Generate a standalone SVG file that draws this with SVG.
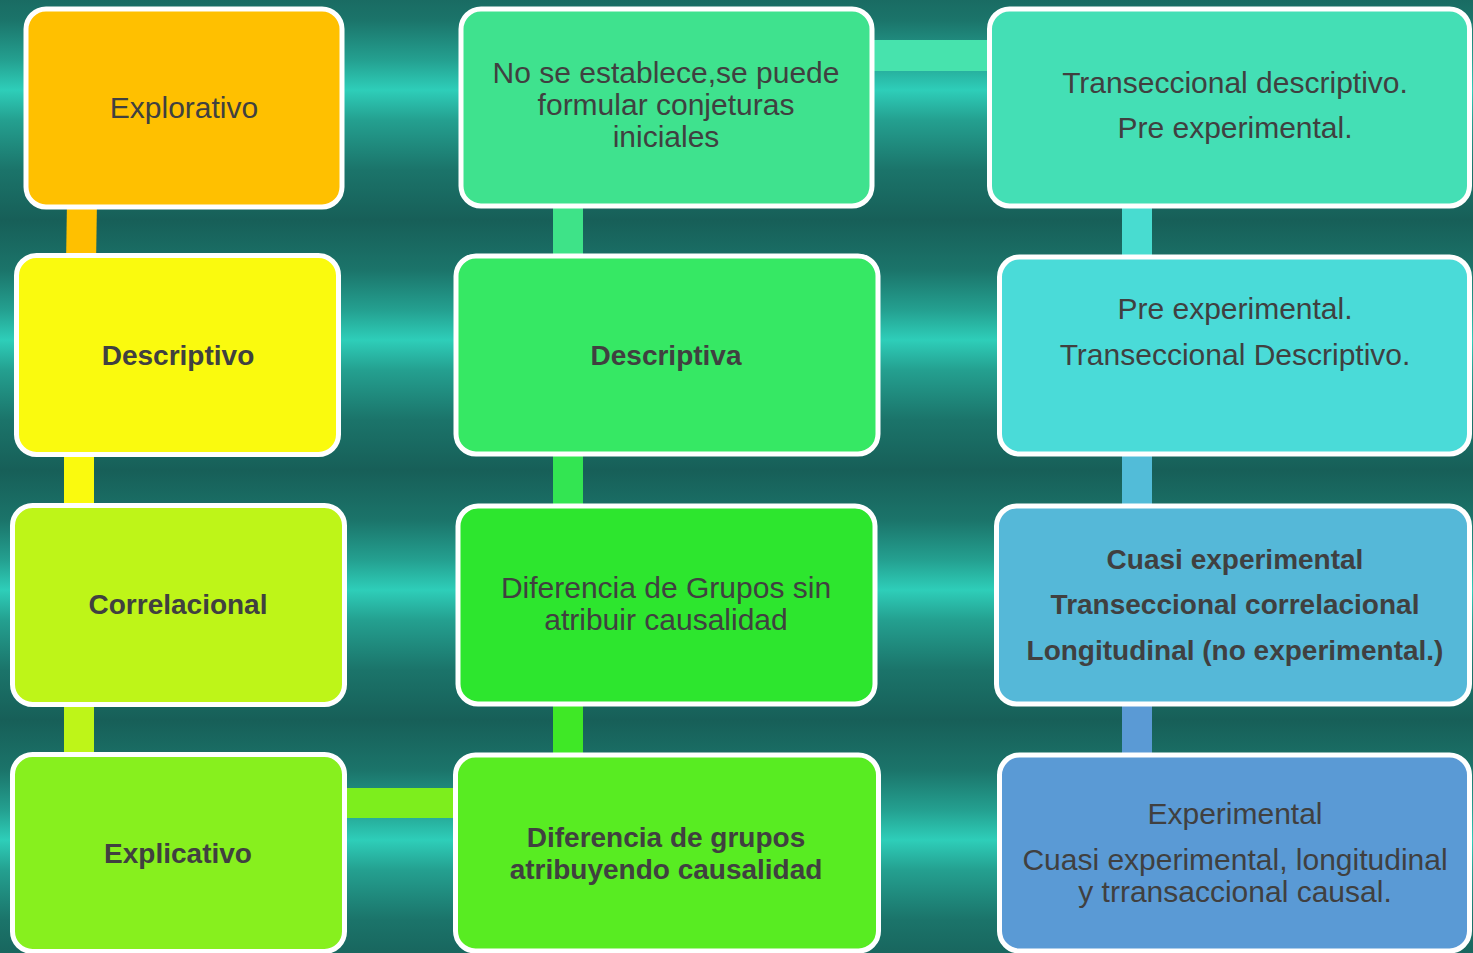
<svg xmlns="http://www.w3.org/2000/svg" width="1473" height="953" viewBox="0 0 1473 953">
<defs>
<linearGradient id="bg" gradientUnits="userSpaceOnUse" x1="0" y1="220" x2="0" y2="470" spreadMethod="repeat">
<stop offset="0" stop-color="#175F58"/>
<stop offset="0.2" stop-color="#1B746A"/>
<stop offset="0.36" stop-color="#24A090"/>
<stop offset="0.48" stop-color="#2ECEB9"/>
<stop offset="0.6" stop-color="#24A090"/>
<stop offset="0.8" stop-color="#1B746A"/>
<stop offset="1" stop-color="#175F58"/>
</linearGradient>
<style>
.n{stroke:#FFFFFF;stroke-width:5}
.t{font-family:"Liberation Sans",Arial,sans-serif;font-size:30px;fill:#404040;text-anchor:middle}
.b{font-weight:bold;font-size:28px}
</style>
</defs>
<rect x="0" y="0" width="1473" height="953" fill="url(#bg)"/>
<g id="connectors">
<polygon points="67,200 97,200 96,265 66,265" fill="#FFC000"/>
<rect x="64" y="445" width="30" height="70" fill="#FAFA0E"/>
<rect x="64" y="695" width="30" height="70" fill="#BEF518"/>
<rect x="335" y="788" width="130" height="30" fill="#7DEE1D"/>
<rect x="553" y="198" width="30" height="68" fill="#3EE388"/>
<rect x="553" y="446" width="30" height="70" fill="#33E552"/>
<rect x="553" y="695" width="30" height="70" fill="#3FE826"/>
<rect x="865" y="40" width="130" height="31" fill="#47E3AD"/>
<rect x="1122" y="198" width="30" height="68" fill="#48DCD0"/>
<rect x="1122" y="446" width="30" height="70" fill="#52BCD8"/>
<rect x="1122" y="695" width="30" height="70" fill="#5A9AD5"/>
</g>
<g id="n11"><rect class="n" x="26" y="9" width="316" height="198" rx="20" fill="#FFC000"/><text class="t" x="184" y="118">Explorativo</text></g>
<g id="n12"><rect class="n" x="16.5" y="255.5" width="322" height="199" rx="20" fill="#FAFA0E"/><text class="t b" x="178" y="365">Descriptivo</text></g>
<g id="n13"><rect class="n" x="12.5" y="505.5" width="332" height="199" rx="20" fill="#BEF518"/><text class="t b" x="178" y="614">Correlacional</text></g>
<g id="n14"><rect class="n" x="12.5" y="754.5" width="332" height="197" rx="20" fill="#87F01E"/><text class="t b" x="178" y="863">Explicativo</text></g>
<g id="n21"><rect class="n" x="461" y="9" width="411" height="197" rx="20" fill="#3FE28E"/><text class="t" x="666" y="83">No se establece,se puede</text><text class="t" x="666" y="115">formular conjeturas</text><text class="t" x="666" y="147">iniciales</text></g>
<g id="n22"><rect class="n" x="456" y="256" width="422" height="198" rx="20" fill="#36E864"/><text class="t b" x="666" y="365">Descriptiva</text></g>
<g id="n23"><rect class="n" x="458" y="506" width="417" height="198" rx="20" fill="#2DE62E"/><text class="t" x="666" y="598">Diferencia de Grupos sin</text><text class="t" x="666" y="630">atribuir causalidad</text></g>
<g id="n24"><rect class="n" x="455.5" y="755" width="423" height="196" rx="20" fill="#58EC22"/><text class="t b" x="666" y="847">Diferencia de grupos</text><text class="t b" x="666" y="879">atribuyendo causalidad</text></g>
<g id="n31"><rect class="n" x="989.5" y="9" width="480" height="197" rx="20" fill="#44DFB5"/><text class="t" x="1235" y="93">Transeccional descriptivo.</text><text class="t" x="1235" y="138">Pre experimental.</text></g>
<g id="n32"><rect class="n" x="999.5" y="257" width="470" height="197" rx="20" fill="#4ADBD8"/><text class="t" x="1235" y="319">Pre experimental.</text><text class="t" x="1235" y="365">Transeccional Descriptivo.</text></g>
<g id="n33"><rect class="n" x="996.5" y="506" width="473" height="198" rx="20" fill="#55B8D8"/><text class="t b" x="1235" y="569">Cuasi experimental</text><text class="t b" x="1235" y="614">Transeccional correlacional</text><text class="t b" x="1235" y="660">Longitudinal (no experimental.)</text></g>
<g id="n34"><rect class="n" x="999.5" y="755" width="470" height="196" rx="20" fill="#5A9AD5"/><text class="t" x="1235" y="824">Experimental</text><text class="t" x="1235" y="870">Cuasi experimental, longitudinal</text><text class="t" x="1235" y="902">y trransaccional causal.</text></g>
</svg>
